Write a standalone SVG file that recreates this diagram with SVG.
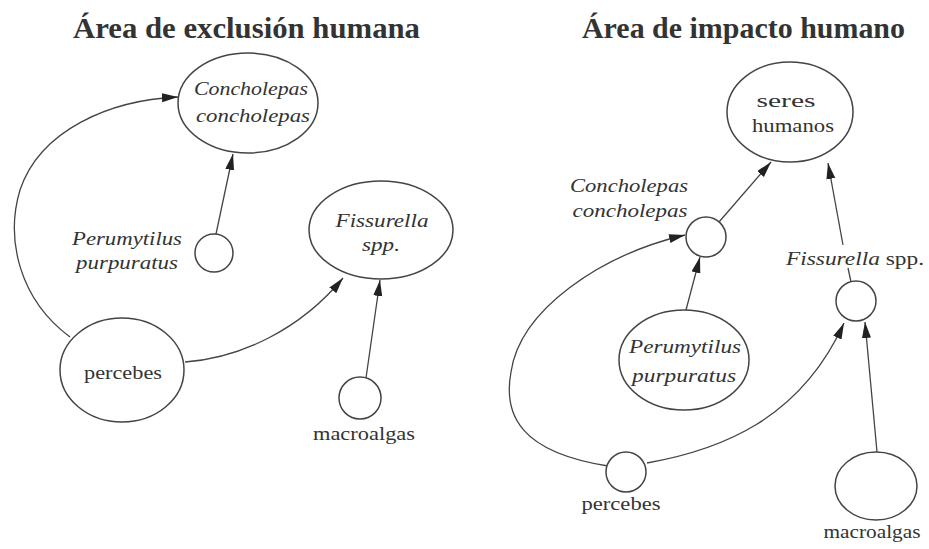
<svg xmlns="http://www.w3.org/2000/svg" width="929" height="549" viewBox="0 0 929 549">
<defs>
<marker id="ah" markerUnits="userSpaceOnUse" markerWidth="17" markerHeight="10" refX="16" refY="4.5" orient="auto">
<path d="M0,0 L16,4.5 L0,9 z" fill="#222"/>
</marker>
<style>
.node{fill:#fff;stroke:#444;stroke-width:1.5}
.t{font-family:"Liberation Serif","Times New Roman",serif;font-size:18px;fill:#333;text-anchor:middle}
.i{font-style:italic}
.title{font-family:"Liberation Serif","Times New Roman",serif;font-size:30px;font-weight:bold;fill:#333}
.c{fill:none;stroke:#444;stroke-width:1.3;marker-end:url(#ah)}
.cn{fill:none;stroke:#444;stroke-width:1.3}
</style>
</defs>
<rect width="929" height="549" fill="#fff"/>
<text class="title" x="73" y="38" textLength="347" lengthAdjust="spacingAndGlyphs">Área de exclusión humana</text>
<text class="title" x="582" y="38" textLength="323" lengthAdjust="spacingAndGlyphs">Área de impacto humano</text>

<g id="connectors">
<line class="c" x1="216" y1="234" x2="233" y2="154"/>
<path class="c" d="M70,337 C20,300 5,240 20,190 C40,130 110,100 178,97"/>
<path class="c" d="M185,362 C240,358 300,330 343,278"/>
<line class="c" x1="366" y1="378" x2="380" y2="280"/>
<line class="c" x1="719" y1="222" x2="771" y2="162"/>
<line class="cn" x1="851" y1="282" x2="848" y2="268"/>
<line class="c" x1="843" y1="245" x2="828" y2="163"/>
<line class="c" x1="686" y1="310" x2="700" y2="257"/>
<path class="c" d="M608,466 C520,452 503,415 511,372 C520,310 600,255 685,235"/>
<path class="c" d="M647,463 C720,450 800,420 844,323"/>
<line class="c" x1="877" y1="452" x2="865" y2="322"/>
</g>

<g id="l-concholepas">
<ellipse class="node" cx="248" cy="103" rx="70" ry="50"/>
<text class="t i" x="251" y="95" textLength="114" lengthAdjust="spacingAndGlyphs">Concholepas</text>
<text class="t i" x="253" y="122" textLength="114" lengthAdjust="spacingAndGlyphs">concholepas</text>
</g>
<g id="l-perumytilus">
<circle class="node" cx="214" cy="253" r="19"/>
<text class="t i" x="127" y="245" textLength="110" lengthAdjust="spacingAndGlyphs">Perumytilus</text>
<text class="t i" x="127" y="269" textLength="102" lengthAdjust="spacingAndGlyphs">purpuratus</text>
</g>
<g id="l-fissurella">
<ellipse class="node" cx="381" cy="230" rx="72" ry="49"/>
<text class="t i" x="382" y="227" textLength="93" lengthAdjust="spacingAndGlyphs">Fissurella</text>
<text class="t i" x="381" y="251" textLength="38" lengthAdjust="spacingAndGlyphs">spp.</text>
</g>
<g id="l-percebes">
<ellipse class="node" cx="122" cy="370" rx="62" ry="52"/>
<text class="t" x="123" y="379" textLength="78" lengthAdjust="spacingAndGlyphs">percebes</text>
</g>
<g id="l-macroalgas">
<circle class="node" cx="360" cy="398" r="21"/>
<text class="t" x="364" y="440" textLength="102" lengthAdjust="spacingAndGlyphs">macroalgas</text>
</g>

<g id="r-seres">
<ellipse class="node" cx="790" cy="112" rx="63" ry="50"/>
<text class="t" x="786" y="107" textLength="59" lengthAdjust="spacingAndGlyphs">seres</text>
<text class="t" x="793" y="132" textLength="82" lengthAdjust="spacingAndGlyphs">humanos</text>
</g>
<g id="r-concholepas">
<circle class="node" cx="706" cy="237" r="20"/>
<text class="t i" x="629" y="192" textLength="118" lengthAdjust="spacingAndGlyphs">Concholepas</text>
<text class="t i" x="630" y="217" textLength="115" lengthAdjust="spacingAndGlyphs">concholepas</text>
</g>
<g id="r-fissurella">
<circle class="node" cx="856" cy="301" r="20"/>
<text class="t" x="855" y="265" textLength="138" lengthAdjust="spacingAndGlyphs"><tspan font-style="italic">Fissurella</tspan> spp.</text>
</g>
<g id="r-perumytilus">
<ellipse class="node" cx="684" cy="360" rx="65" ry="50"/>
<text class="t i" x="685" y="353" textLength="112" lengthAdjust="spacingAndGlyphs">Perumytilus</text>
<text class="t i" x="684" y="382" textLength="104" lengthAdjust="spacingAndGlyphs">purpuratus</text>
</g>
<g id="r-percebes">
<circle class="node" cx="626" cy="472" r="20"/>
<text class="t" x="621" y="510" textLength="79" lengthAdjust="spacingAndGlyphs">percebes</text>
</g>
<g id="r-macroalgas">
<ellipse class="node" cx="876" cy="486" rx="41" ry="34"/>
<text class="t" x="872" y="538" textLength="97" lengthAdjust="spacingAndGlyphs">macroalgas</text>
</g>
</svg>
